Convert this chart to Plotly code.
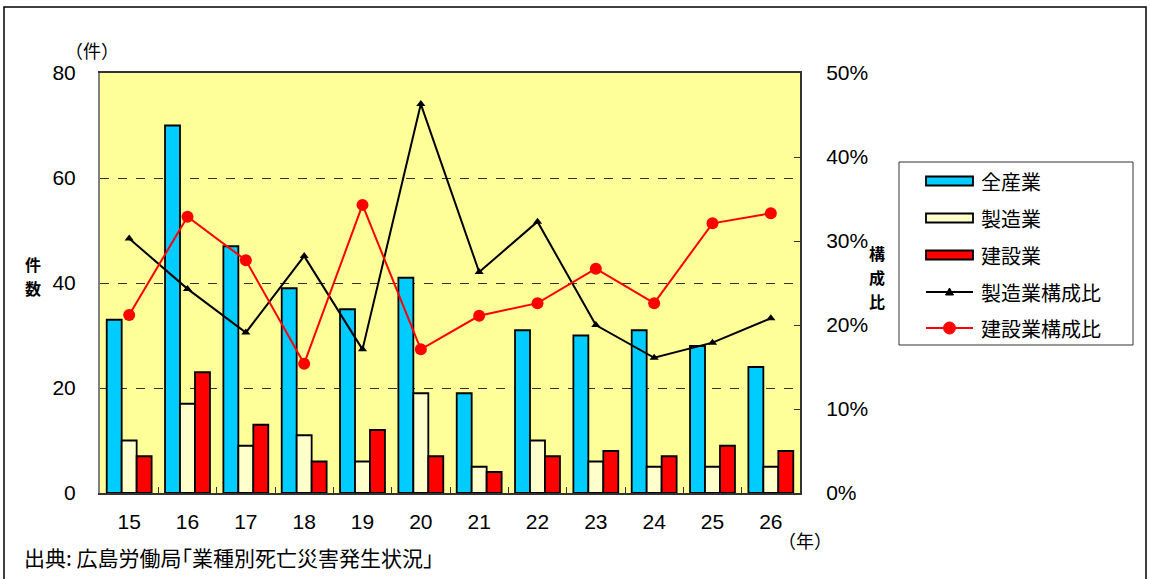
import plotly.graph_objects as go

# 年（平成）
years = ["15", "16", "17", "18", "19", "20", "21", "22", "23", "24", "25", "26"]

# 死亡災害件数
all_ind = [33, 70, 47, 39, 35, 41, 19, 31, 30, 31, 28, 24]
manufacturing = [10, 17, 9, 11, 6, 19, 5, 10, 6, 5, 5, 5]
construction = [7, 23, 13, 6, 12, 7, 4, 7, 8, 7, 9, 8]

# 構成比（%）
mfg_ratio = [30.3, 24.3, 19.1, 28.2, 17.1, 46.3, 26.3, 32.3, 20.0, 16.1, 17.9, 20.8]
con_ratio = [21.2, 32.9, 27.7, 15.4, 34.3, 17.1, 21.1, 22.6, 26.7, 22.6, 32.1, 33.3]

left_ticks = [0, 20, 40, 60, 80]
right_ticks = [0, 10, 20, 30, 40, 50]
right_labels = ["0%", "10%", "20%", "30%", "40%", "50%"]

JP = "Noto Sans CJK JP"
NUM = "Liberation Sans, Arial, sans-serif"

W, H = 1150, 579
ML, MR, MT, MB = 100, 350, 73, 86
PW, PH = W - ML - MR, H - MT - MB

BLUE, CREAM, RED, BG = "#00CCFF", "#FFFFCC", "#FF0000", "#FFFF99"


def px_x(x):
    return (x - ML) / PW


def px_y(y):
    return (H - MB - y) / PH


fig = go.Figure()

bar_line = dict(color="black", width=1.8)
fig.add_trace(go.Bar(x=years, y=all_ind, name="全産業", marker=dict(color=BLUE, line=bar_line)))
fig.add_trace(go.Bar(x=years, y=manufacturing, name="製造業", marker=dict(color=CREAM, line=bar_line)))
fig.add_trace(go.Bar(x=years, y=construction, name="建設業", marker=dict(color=RED, line=bar_line)))

fig.add_trace(go.Scatter(x=years, y=mfg_ratio, name="製造業構成比", yaxis="y2", mode="lines+markers",
                         line=dict(color="black", width=2),
                         marker=dict(symbol="triangle-up", size=8, color="black")))
fig.add_trace(go.Scatter(x=years, y=con_ratio, name="建設業構成比", yaxis="y2", mode="lines+markers",
                         line=dict(color=RED, width=2),
                         marker=dict(symbol="circle", size=12, color=RED)))

fig.update_layout(
    width=W, height=H,
    margin=dict(l=ML, r=MR, t=MT, b=MB, pad=0),
    paper_bgcolor="white",
    plot_bgcolor=BG,
    barmode="group",
    bargap=0.23,
    bargroupgap=0,
    showlegend=False,
    font=dict(family=NUM, size=21, color="black"),
    xaxis=dict(
        type="category", categoryorder="array", categoryarray=years,
        range=[-0.5, len(years) - 0.5],
        showline=True, linecolor="#333333", linewidth=2, mirror=True,
        ticks="inside", tickson="boundaries", ticklen=6, tickcolor="#333333",
        showgrid=False, ticklabelstandoff=9,
        tickfont=dict(family=NUM, size=21),
    ),
    yaxis=dict(
        range=[0, 80], tickvals=left_ticks,
        showline=True, linecolor="#808080", linewidth=2,
        showgrid=True, gridcolor="#333333", gridwidth=1, griddash="dash",
        ticks="", ticklabelstandoff=18, zeroline=False,
        tickfont=dict(family=NUM, size=21),
    ),
    yaxis2=dict(
        range=[0, 50], tickvals=right_ticks, ticktext=right_labels,
        overlaying="y", side="right",
        showline=True, linecolor="#333333", linewidth=2,
        showgrid=False, zeroline=False,
        ticks="inside", ticklen=6, tickcolor="#333333", ticklabelstandoff=20,
        tickfont=dict(family=NUM, size=21),
    ),
)

shapes = []
annots = []

# 外枠
shapes.append(dict(type="rect", xref="paper", yref="paper",
                   x0=px_x(4), x1=px_x(1146), y0=px_y(620), y1=px_y(7),
                   line=dict(color="black", width=1.5), layer="below"))

# 凡例
shapes.append(dict(type="rect", xref="paper", yref="paper",
                   x0=px_x(899), x1=px_x(1133), y0=px_y(345), y1=px_y(162),
                   line=dict(color="#333333", width=1), fillcolor="white", layer="below"))

legend_items = [
    ("全産業", "bar", BLUE, 181),
    ("製造業", "bar", CREAM, 218),
    ("建設業", "bar", RED, 255),
    ("製造業構成比", "tri", "black", 292),
    ("建設業構成比", "dot", RED, 328),
]
sx0, sx1 = 926, 973
for label, kind, color, cy in legend_items:
    if kind == "bar":
        shapes.append(dict(type="rect", xref="paper", yref="paper",
                           x0=px_x(sx0), x1=px_x(sx1), y0=px_y(cy + 4.5), y1=px_y(cy - 4.5),
                           line=dict(color="black", width=1.8), fillcolor=color))
    else:
        shapes.append(dict(type="line", xref="paper", yref="paper",
                           x0=px_x(sx0), x1=px_x(sx1), y0=px_y(cy), y1=px_y(cy),
                           line=dict(color=color, width=2)))
        mx = (sx0 + sx1) / 2
        if kind == "tri":
            path = "M {} {} L {} {} L {} {} Z".format(
                px_x(mx - 4), px_y(cy + 3), px_x(mx + 4), px_y(cy + 3), px_x(mx), px_y(cy - 4))
            shapes.append(dict(type="path", xref="paper", yref="paper", path=path,
                               line=dict(color=color, width=1), fillcolor=color))
        else:
            shapes.append(dict(type="circle", xref="paper", yref="paper",
                               x0=px_x(mx - 6), x1=px_x(mx + 6), y0=px_y(cy + 6), y1=px_y(cy - 6),
                               line=dict(color=color, width=1), fillcolor=color))
    annots.append(dict(text=label, x=px_x(979), y=px_y(cy), xref="paper", yref="paper",
                       showarrow=False, xanchor="left", yanchor="middle",
                       font=dict(family=JP, size=20, color="black")))

# 軸の単位・タイトル（縦書きは1文字ずつ配置）
for text, x, y, size, bold in [
    ("（件）", 92, 50, 18, False),
    ("（年）", 805, 540, 18, False),
    ("件", 33, 264, 16, True),
    ("数", 33, 288, 16, True),
    ("構", 877, 253, 16, True),
    ("成", 877, 277, 16, True),
    ("比", 877, 301, 16, True),
]:
    annots.append(dict(text="<b>{}</b>".format(text) if bold else text,
                       x=px_x(x), y=px_y(y), xref="paper", yref="paper",
                       showarrow=False, xanchor="center", yanchor="middle",
                       borderpad=0,
                       font=dict(family=JP, size=size, color="black")))

# 出典
annots.append(dict(text="出典: 広島労働局｢業種別死亡災害発生状況｣", x=px_x(22), y=px_y(557),
                   xref="paper", yref="paper", showarrow=False,
                   xanchor="left", yanchor="middle",
                   font=dict(family=JP, size=21, color="black")))

fig.update_layout(shapes=shapes, annotations=annots)

fig.write_html("out.html")
